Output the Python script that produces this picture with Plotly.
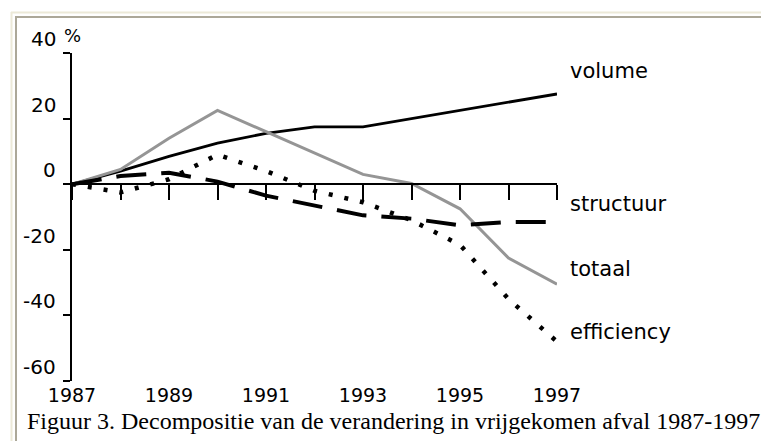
import plotly.graph_objects as go

# ---- data ----
years = [1987, 1988, 1989, 1990, 1991, 1992, 1993, 1994, 1995, 1996, 1997]
volume = [0, 4, 8.5, 12.5, 15.5, 17.5, 17.5, 20, 22.5, 25, 27.5]
totaal = [0, 4.5, 14, 22.5, 16, 9.5, 3, 0.2, -7.5, -22.5, -30.5]
structuur = [0, 2.5, 3.5, 0.8, -3.5, -6.5, -9.5, -10.5, -12.5, -11.5, -11.5]
efficiency = [0, -2.5, 1.5, 9, 4, -2, -5.5, -11, -18.5, -35, -48]

series_names = ["volume", "structuur", "totaal", "efficiency"]
label_y = [34.5, -6, -26, -45]          # y positions of the end labels
y_ticks = [40, 20, 0, -20, -40, -60]
x_label_years = [1987, 1989, 1991, 1993, 1995, 1997]
caption = "Figuur 3. Decompositie van de verandering in vrijgekomen afval 1987-1997"

# ---- geometry helpers ----
W_FIG, H_FIG = 761, 441
ML, MT = 72, 53
PW, PH = 500, 328
MR = W_FIG - ML - PW
MB = H_FIG - MT - PH


def px_x(p):
    return (p - ML) / PW


def px_y(p):
    return (MT + PH - p) / PH


SANS = "DejaVu Sans"
SERIF = "Liberation Serif"

fig = go.Figure()

fig.add_trace(go.Scatter(x=years, y=volume, mode="lines", name="volume",
                         line=dict(color="black", width=2.8)))
fig.add_trace(go.Scatter(x=years, y=totaal, mode="lines", name="totaal",
                         line=dict(color="#959595", width=3)))
fig.add_trace(go.Scatter(x=years, y=structuur, mode="lines", name="structuur",
                         line=dict(color="black", width=4, dash="30px,15px")))
fig.add_trace(go.Scatter(x=years, y=efficiency, mode="lines", name="efficiency",
                         line=dict(color="black", width=4.5, dash="4px,12px")))
# dummy trace for the label axis
fig.add_trace(go.Scatter(x=[years[0], years[-1]], y=[None, None], xaxis="x2",
                         mode="lines", showlegend=False, hoverinfo="skip"))

data_dom_end = (557 - ML) / PW
fig.update_layout(
    width=W_FIG, height=H_FIG,
    margin=dict(l=ML, r=MR, t=MT, b=MB, pad=0),
    paper_bgcolor="white", plot_bgcolor="white",
    showlegend=False,
    xaxis=dict(range=[1987, 1997], domain=[0, data_dom_end], anchor="free",
               position=(0 - (-60)) / 100, side="bottom",
               showline=True, linecolor="black", linewidth=2,
               ticks="outside", ticklen=15, tickwidth=2, tickcolor="black",
               dtick=1, tick0=1987, showticklabels=False,
               showgrid=False, zeroline=False),
    xaxis2=dict(range=[1987, 1997], domain=[px_x(77), px_x(569)],
                anchor="free", position=0, overlaying="x", side="bottom",
                tickvals=x_label_years, ticktext=[str(v) for v in x_label_years],
                tickfont=dict(family=SANS, size=19, color="black"),
                ticklabelstandoff=1,
                ticks="", showline=False, showgrid=False, zeroline=False),
    yaxis=dict(range=[-60, 40], domain=[0, 1], anchor="x",
               showline=True, linecolor="black", linewidth=2,
               ticks="outside", ticklen=7, tickwidth=2, tickcolor="black",
               tickvals=y_ticks, showticklabels=False,
               showgrid=False, zeroline=False),
)

annotations = []
for v in y_ticks:
    annotations.append(dict(xref="paper", x=0, xanchor="right", xshift=-14,
                            yref="y", y=v, yanchor="middle", yshift=14,
                            text=str(v), showarrow=False,
                            font=dict(family=SANS, size=20, color="black")))
annotations.append(dict(xref="paper", x=0, xanchor="left", xshift=-10,
                        yref="y", y=y_ticks[0], yanchor="middle", yshift=18,
                        text="%", showarrow=False,
                        font=dict(family=SANS, size=18, color="black")))
for name, ly in zip(series_names, label_y):
    annotations.append(dict(xref="x", x=years[-1], xanchor="left", xshift=11,
                            yref="y", y=ly, yanchor="middle",
                            text=name, showarrow=False,
                            font=dict(family=SANS, size=21, color="black")))
annotations.append(dict(xref="paper", x=0, xanchor="left", xshift=-47,
                        yref="paper", y=0, yanchor="middle", yshift=-40,
                        text=caption, showarrow=False,
                        font=dict(family=SERIF, size=24, color="black")))
fig.update_layout(annotations=annotations)

# page frame lines
shapes = [
    dict(type="line", xref="paper", yref="paper", x0=px_x(11), x1=px_x(770),
         y0=px_y(12.5), y1=px_y(12.5), line=dict(color="#ECE9D8", width=2)),
    dict(type="line", xref="paper", yref="paper", x0=px_x(16), x1=px_x(770),
         y0=px_y(17), y1=px_y(17), line=dict(color="#ACA899", width=2)),
    dict(type="line", xref="paper", yref="paper", x0=px_x(11.5), x1=px_x(11.5),
         y0=px_y(12), y1=px_y(450), line=dict(color="#ECE9D8", width=2)),
    dict(type="line", xref="paper", yref="paper", x0=px_x(16), x1=px_x(16),
         y0=px_y(16), y1=px_y(450), line=dict(color="#ACA899", width=2)),
]
fig.update_layout(shapes=shapes)

fig.write_html(
    "out.html",
    config={"displayModeBar": False},
    post_script="document.body.style.margin='0';document.body.style.overflow='hidden';",
)
